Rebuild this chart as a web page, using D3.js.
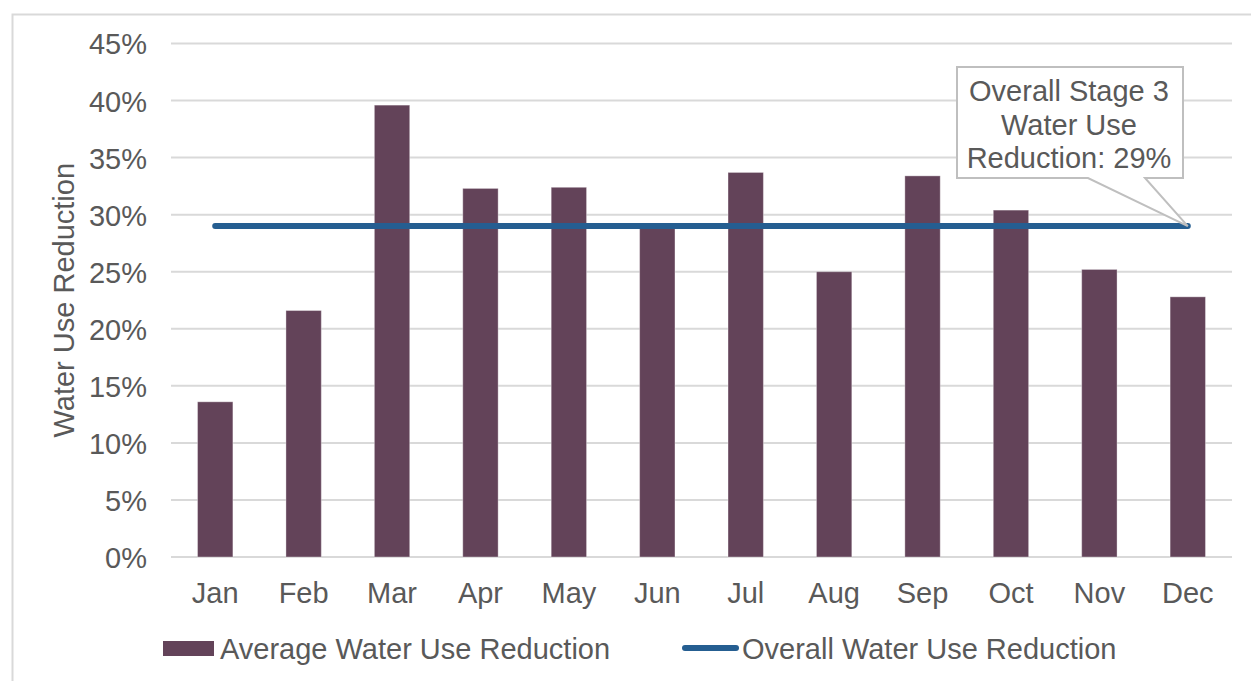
<!DOCTYPE html>
<html>
<head>
<meta charset="utf-8">
<script src="https://cdn.jsdelivr.net/npm/d3@7"></script>
<style>
  html, body { margin: 0; padding: 0; background: #ffffff; }
  svg { display: block; font-family: "Liberation Sans", Arial, sans-serif; }
</style>
</head>
<body>
<svg id="chart" width="1251" height="681"></svg>
<script>
// Monthly water use reduction (Stage 3)
const months = ["Jan", "Feb", "Mar", "Apr", "May", "Jun", "Jul", "Aug", "Sep", "Oct", "Nov", "Dec"];
const avgReduction = [13.6, 21.6, 39.6, 32.3, 32.4, 28.8, 33.7, 25.0, 33.4, 30.4, 25.2, 22.8];
const overallReduction = 29;
const yTicks = [0, 5, 10, 15, 20, 25, 30, 35, 40, 45];
const seriesNames = ["Average Water Use Reduction", "Overall Water Use Reduction"];
const calloutLines = ["Overall Stage 3", "Water Use", "Reduction: " + overallReduction + "%"];

const barColor = "#634359";
const lineColor = "#255e91";
const textColor = "#595959";
const gridColor = "#d9d9d9";
const fontSize = 29;

const svg = d3.select("#chart");

// chart frame
svg.append("rect")
  .attr("x", 12.5).attr("y", 14.5)
  .attr("width", 1300).attr("height", 700)
  .attr("fill", "#ffffff")
  .attr("stroke", "#d9d9d9").attr("stroke-width", 2);

const plot = { left: 171, right: 1232, top: 43.5, bottom: 557 };

const x = d3.scaleBand()
  .domain(months)
  .range([plot.left, plot.right])
  .paddingInner(0.6)
  .paddingOuter(0.3);

const y = d3.scaleLinear()
  .domain([0, 45])
  .range([plot.bottom, plot.top]);

// gridlines
svg.append("g")
  .selectAll("line")
  .data(yTicks)
  .join("line")
  .attr("x1", plot.left).attr("x2", plot.right)
  .attr("y1", d => y(d)).attr("y2", d => y(d))
  .attr("stroke", gridColor).attr("stroke-width", 2);

// y axis labels
const yAxis = d3.axisLeft(y).tickValues(yTicks).tickFormat(d => d + "%").tickSize(0).tickPadding(24);
const gy = svg.append("g").attr("transform", `translate(${plot.left},0)`).call(yAxis);
gy.select(".domain").remove();
gy.selectAll("text")
  .attr("font-size", fontSize)
  .attr("font-family", "'Liberation Sans', Arial, sans-serif")
  .attr("fill", textColor)
  .attr("dy", "0.36em");

// x axis labels
const xAxis = d3.axisBottom(x).tickSize(0).tickPadding(0);
const gx = svg.append("g").attr("transform", `translate(0,${plot.bottom})`).call(xAxis);
gx.select(".domain").remove();
gx.selectAll("text")
  .attr("font-size", fontSize)
  .attr("font-family", "'Liberation Sans', Arial, sans-serif")
  .attr("fill", textColor)
  .attr("dy", 0)
  .attr("y", 46);

// bars
svg.append("g")
  .selectAll("rect")
  .data(months.map((m, i) => ({ m, v: avgReduction[i] })))
  .join("rect")
  .attr("x", d => x(d.m))
  .attr("y", d => y(d.v))
  .attr("width", x.bandwidth())
  .attr("height", d => y(0) - y(d.v))
  .attr("fill", barColor)
  .attr("stroke", "#ffffff").attr("stroke-opacity", 0.35).attr("stroke-width", 1);

// overall reduction line across month centres
const lineData = months.map(m => ({ m, v: overallReduction }));
svg.append("path")
  .datum(lineData)
  .attr("d", d3.line().x(d => x(d.m) + x.bandwidth() / 2).y(d => y(d.v)))
  .attr("fill", "none")
  .attr("stroke", lineColor)
  .attr("stroke-width", 6)
  .attr("stroke-linecap", "round");

// y axis title
svg.append("text")
  .attr("transform", `translate(74,${(plot.top + plot.bottom) / 2}) rotate(-90)`)
  .attr("text-anchor", "middle")
  .attr("font-size", fontSize)
  .attr("fill", textColor)
  .text("Water Use Reduction");

// callout pointing at the last point of the overall line
const tipX = x(months[months.length - 1]) + x.bandwidth() / 2;
const tipY = y(overallReduction);
const box = { x: 957, y: 67, w: 226, h: 111 };
const callout = svg.append("g");
callout.append("path")
  .attr("d", `M${box.x},${box.y} H${box.x + box.w} V${box.y + box.h} H${box.x + 188} L${tipX},${tipY} L${box.x + 131},${box.y + box.h} H${box.x} Z`)
  .attr("fill", "#ffffff")
  .attr("stroke", "#bfbfbf")
  .attr("stroke-width", 2);
callout.selectAll("text")
  .data(calloutLines)
  .join("text")
  .attr("x", box.x + box.w / 2 - 1)
  .attr("y", (d, i) => 101 + i * 33.5)
  .attr("text-anchor", "middle")
  .attr("font-size", fontSize)
  .attr("fill", textColor)
  .text(d => d);

// legend
const legend = svg.append("g");
legend.append("rect")
  .attr("x", 163).attr("y", 641).attr("width", 51).attr("height", 15)
  .attr("fill", barColor);
legend.append("text")
  .attr("x", 220).attr("y", 659)
  .attr("font-size", fontSize).attr("fill", textColor)
  .text(seriesNames[0]);
legend.append("line")
  .attr("x1", 685).attr("x2", 736).attr("y1", 648).attr("y2", 648)
  .attr("stroke", lineColor).attr("stroke-width", 6).attr("stroke-linecap", "round");
legend.append("text")
  .attr("x", 742).attr("y", 659)
  .attr("font-size", fontSize).attr("fill", textColor)
  .text(seriesNames[1]);
</script>
</body>
</html>
